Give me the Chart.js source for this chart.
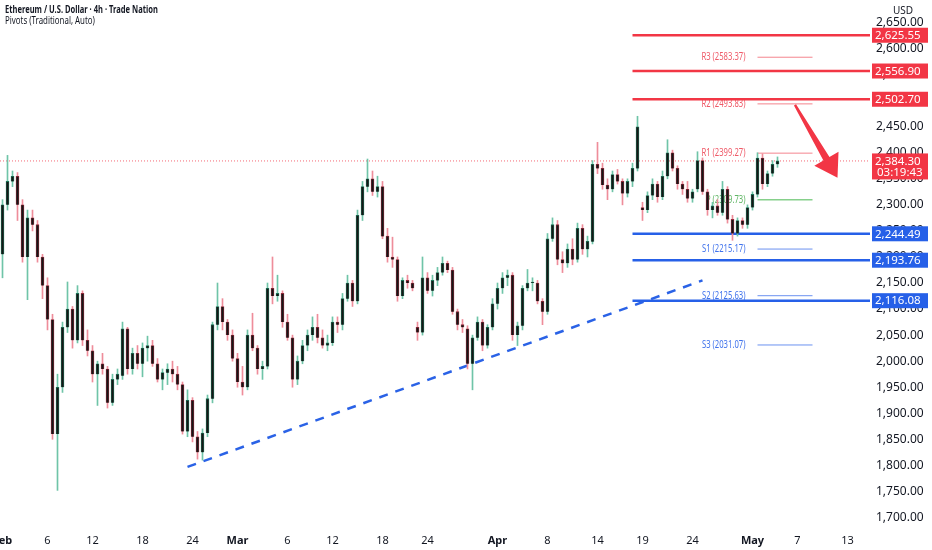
<!DOCTYPE html>
<html>
<head>
<meta charset="utf-8">
<title>ETHUSD 4h</title>
<script src="https://cdn.jsdelivr.net/npm/chart.js@4.4.1/dist/chart.umd.min.js"></script>
<style>
  html, body { margin: 0; padding: 0; background: #fff; }
  #wrap { position: relative; width: 932px; height: 550px; }
</style>
</head>
<body>
<div id="wrap"><canvas id="chart"></canvas></div>
<script>
// one candle per slot
const opens = [
  2205, 2300, 2345, 2355, 2300, 2200, 2275, 2262, 2200, 2145,
  2080, 1860, 1950, 2065, 2100, 2040, 2130, 2040, 2020, 1975,
  1995, 1985, 1920, 1965, 1972, 2062, 1985, 2015, 1995, 2025,
  2030, 1995, 1965, 1978, 1985, 1975, 1955, 1865, 1925, 1855,
  1825, 1862, 1928, 2070, 2105, 2075, 2050, 2005, 1960, 1950,
  2050, 2025, 1985, 1990, 2140, 2125, 2130, 2075, 2045, 1965,
  2000, 2030, 2050, 2065, 2045, 2030, 2035, 2075, 2070, 2120,
  2150, 2115, 2280, 2335, 2350, 2325, 2335, 2240, 2200, 2195,
  2125, 2155, 2150, 2065, 2055, 2160, 2135, 2155, 2170, 2188,
  2175, 2095, 2070, 2062, 1995, 2045, 2075, 2030, 2065, 2110,
  2140, 2160, 2165, 2050, 2068, 2140, 2150, 2150, 2115, 2095,
  2235, 2262, 2195, 2188, 2215, 2195, 2255, 2215, 2230, 2378,
  2370, 2338, 2330, 2358, 2345, 2322, 2345, 2370, 2295, 2290,
  2318, 2340, 2315, 2355, 2400, 2370, 2340, 2330, 2312, 2330,
  2385, 2325, 2290, 2298, 2285, 2330, 2272, 2245, 2270, 2262,
  2295, 2320, 2390, 2340, 2360, 2378
];
const highs = [
  2310, 2395, 2365, 2362, 2310, 2290, 2290, 2270, 2205, 2160,
  2090, 1975, 2075, 2152, 2105, 2145, 2135, 2060, 2030, 2000,
  2015, 1990, 1975, 1985, 2075, 2065, 2025, 2030, 2035, 2048,
  2040, 2005, 1985, 1995, 2000, 1990, 1960, 1945, 1930, 1865,
  1870, 1935, 2075, 2150, 2120, 2080, 2060, 2015, 1990, 2060,
  2092, 2030, 2000, 2150, 2200, 2165, 2135, 2090, 2050, 2010,
  2040, 2060, 2085, 2090, 2060, 2050, 2085, 2085, 2130, 2165,
  2155, 2290, 2345, 2388, 2365, 2355, 2345, 2255, 2238, 2200,
  2160, 2165, 2155, 2075, 2200, 2170, 2165, 2180, 2200, 2192,
  2180, 2100, 2080, 2068, 2050, 2085, 2080, 2070, 2120, 2150,
  2170, 2175, 2170, 2075, 2145, 2176, 2160, 2155, 2120, 2245,
  2275, 2270, 2210, 2225, 2235, 2265, 2262, 2240, 2385, 2420,
  2380, 2350, 2365, 2368, 2350, 2350, 2380, 2470, 2305, 2325,
  2350, 2345, 2365, 2425, 2405, 2375, 2345, 2345, 2330, 2402,
  2390, 2330, 2305, 2310, 2345, 2335, 2280, 2275, 2275, 2300,
  2325, 2400, 2398, 2365, 2385, 2392
];
const lows = [
  2160, 2290, 2335, 2270, 2190, 2118, 2250, 2190, 2120, 2060,
  1850, 1752, 1940, 2055, 2025, 2035, 2030, 2010, 1960, 1915,
  1975, 1910, 1915, 1955, 1965, 1975, 1975, 1985, 1970, 2000,
  1990, 1960, 1945, 1955, 1960, 1945, 1860, 1855, 1845, 1812,
  1810, 1855, 1920, 2060, 2060, 2040, 2000, 1950, 1935, 1945,
  2020, 1975, 1965, 1985, 2110, 2115, 2065, 2040, 1950, 1955,
  1995, 2020, 2040, 2035, 2025, 2020, 2030, 2055, 2060, 2115,
  2105, 2110, 2270, 2325, 2318, 2315, 2235, 2190, 2180, 2115,
  2120, 2140, 2135, 2040, 2050, 2130, 2125, 2145, 2165, 2170,
  2090, 2060, 2055, 1985, 1945, 2040, 2020, 2025, 2060, 2100,
  2130, 2145, 2040, 2030, 2060, 2135, 2135, 2110, 2070, 2090,
  2230, 2185, 2170, 2180, 2185, 2190, 2205, 2200, 2225, 2360,
  2330, 2310, 2325, 2340, 2300, 2315, 2335, 2365, 2270, 2285,
  2310, 2305, 2310, 2350, 2365, 2330, 2320, 2305, 2305, 2325,
  2320, 2280, 2275, 2280, 2280, 2265, 2232, 2240, 2255, 2255,
  2290, 2315, 2330, 2335, 2355, 2372
];
const closes = [
  2300, 2345, 2355, 2300, 2200, 2275, 2262, 2200, 2145, 2080,
  1860, 1950, 2065, 2100, 2040, 2130, 2040, 2020, 1975, 1995,
  1985, 1920, 1965, 1975, 2062, 1985, 2015, 1995, 2025, 2030,
  1995, 1965, 1978, 1985, 1975, 1955, 1865, 1925, 1855, 1825,
  1862, 1928, 2070, 2105, 2075, 2050, 2005, 1960, 1950, 2050,
  2025, 1985, 1990, 2140, 2125, 2130, 2075, 2045, 1965, 2000,
  2030, 2050, 2065, 2045, 2030, 2035, 2075, 2070, 2120, 2150,
  2115, 2280, 2335, 2350, 2325, 2335, 2240, 2200, 2195, 2125,
  2155, 2150, 2140, 2055, 2160, 2135, 2155, 2170, 2188, 2175,
  2095, 2070, 2065, 1995, 2045, 2075, 2030, 2065, 2110, 2140,
  2160, 2165, 2050, 2068, 2140, 2150, 2150, 2115, 2095, 2235,
  2262, 2195, 2188, 2215, 2195, 2255, 2215, 2230, 2378, 2370,
  2338, 2330, 2358, 2345, 2322, 2345, 2370, 2450, 2290, 2318,
  2340, 2315, 2355, 2400, 2370, 2340, 2330, 2312, 2325, 2385,
  2325, 2290, 2298, 2285, 2330, 2272, 2245, 2270, 2262, 2295,
  2320, 2390, 2340, 2360, 2378, 2384.3
];

// time axis labels and the slot they sit on
const tickSlots = [0, 9, 18, 28, 38, 47, 57, 66, 76, 85, 99, 109, 119, 128, 138, 150, 159, 169];
const tickLabels = ["Feb", "6", "12", "18", "24", "Mar", "6", "12", "18", "24", "Apr", "8", "14", "19", "24", "May", "7", "13"];
const monthNames = ["Feb", "Mar", "Apr", "May"];

// drawn levels
const resistanceLevels = [2625.55, 2556.90, 2502.70];
const supportLevels = [2244.49, 2193.76, 2116.08];
const levelStartSlot = 126;

// pivots (traditional)
const pivotNames = ["R3", "R2", "R1", "P", "S1", "S2", "S3"];
const pivotValues = [2583.37, 2493.83, 2399.27, 2309.73, 2215.17, 2125.63, 2031.07];
const pivotSlots = [151, 162];

// rising trendline and the down arrow
const trendSlots = [37, 140];
const trendPrices = [1797, 2155];
const arrowSlots = [158.5, 167];
const arrowPrices = [2492, 2352];

const lastPrice = 2384.30;
const countdown = "03:19:43";

const slotCount = 174;
const RED = "#f23645";
const BLUE = "#2660e8";
const TEXT = "#131722";
const FONT = "'Noto Sans', 'DejaVu Sans', sans-serif";

const fmt = v => v.toLocaleString("en-US", { minimumFractionDigits: 2, maximumFractionDigits: 2 });
const isUp = i => closes[i] >= opens[i];

const bodies = opens.map((o, i) => ({ x: i, y: [o, closes[i]] }));
const wicks = lows.map((l, i) => ({ x: i, y: [l, highs[i]] }));
const bodyEdges = opens.map((o, i) => isUp(i) ? "#1b7458" : "#93283a");
const wickColors = opens.map((o, i) => isUp(i) ? "#6fc4a8" : "#ee8d9a");

const hLine = (x0, x1, v, color, width, dash, order) => ({
  type: "line",
  data: [{ x: x0, y: v }, { x: x1, y: v }],
  borderColor: color,
  borderWidth: width,
  borderDash: dash || [],
  pointRadius: 0,
  order: order
});

const pivotColor = name => name[0] === "R" ? "#f4848e" : name[0] === "P" ? "#86d08b" : "#6b91f0";
const pivotTextColor = name => name[0] === "R" ? "#ef5a68" : name[0] === "P" ? "#5fb564" : "#3f72ec";

const datasets = [
  { type: "bar", data: bodies, backgroundColor: "#171717", borderColor: bodyEdges, borderWidth: 0.8, barThickness: 3, grouped: false, minBarLength: 1, order: 0 },
  { type: "bar", data: wicks, backgroundColor: wickColors, barThickness: 1, grouped: false, order: 1 }
];
resistanceLevels.forEach(v => datasets.push(hLine(levelStartSlot, slotCount - 0.5, v, RED, 2.5, null, 3)));
supportLevels.forEach(v => datasets.push(hLine(levelStartSlot, slotCount - 0.5, v, BLUE, 2.5, null, 3)));
pivotValues.forEach((v, i) => datasets.push(hLine(pivotSlots[0], pivotSlots[1], v, pivotColor(pivotNames[i]), pivotNames[i] === "P" ? 1.5 : 1, null, 4)));
datasets.push(hLine(-0.5, slotCount - 0.5, lastPrice, "rgba(242,54,69,0.75)", 1, [1, 2], 5));
datasets.push({
  type: "line",
  data: trendSlots.map((s, i) => ({ x: s, y: trendPrices[i] })),
  borderColor: "#2a62e6",
  borderWidth: 2.5,
  borderDash: [9, 8],
  pointRadius: 0,
  order: 2
});

// narrow caption text, like the condensed face in the screenshot
const narrowText = (ctx, text, x, y, align, squeeze) => {
  ctx.save();
  ctx.translate(x, y);
  ctx.scale(squeeze || 0.8, 1);
  ctx.textAlign = align || "left";
  ctx.fillText(text, 0, 0);
  ctx.restore();
};

// texts on top-left, pivot captions, price scale boxes, arrow
const overlay = {
  id: "overlay",
  beforeDatasetsDraw(chart) {
    const { ctx, scales: { x, y } } = chart;
    ctx.save();
    ctx.font = "10.5px " + FONT;
    ctx.textBaseline = "middle";
    const xr = x.getPixelForValue(pivotSlots[0]) - 12;
    pivotValues.forEach((v, i) => {
      ctx.fillStyle = pivotTextColor(pivotNames[i]);
      narrowText(ctx, pivotNames[i] + " (" + v.toFixed(2) + ")", xr, y.getPixelForValue(v), "right", 0.73);
    });
    ctx.restore();
  },
  afterDatasetsDraw(chart) {
    const { ctx, scales: { x, y } } = chart;
    const x0 = x.getPixelForValue(arrowSlots[0]), y0 = y.getPixelForValue(arrowPrices[0]);
    const x1 = x.getPixelForValue(arrowSlots[1]), y1 = y.getPixelForValue(arrowPrices[1]);
    const len = Math.hypot(x1 - x0, y1 - y0);
    const ux = (x1 - x0) / len, uy = (y1 - y0) / len;
    const nx = -uy, ny = ux;
    const head = 22, hw = 14;
    const bx = x1 - ux * head, by = y1 - uy * head;
    ctx.save();
    ctx.fillStyle = RED;
    ctx.beginPath();
    ctx.moveTo(x0 + nx * 1.2, y0 + ny * 1.2);
    ctx.lineTo(bx + nx * 3.5, by + ny * 3.5);
    ctx.lineTo(bx + nx * hw, by + ny * hw);
    ctx.lineTo(x1, y1);
    ctx.lineTo(bx - nx * hw, by - ny * hw);
    ctx.lineTo(bx - nx * 3.5, by - ny * 3.5);
    ctx.lineTo(x0 - nx * 1.2, y0 - ny * 1.2);
    ctx.closePath();
    ctx.fill();
    ctx.restore();
  },
  afterDraw(chart) {
    const { ctx, scales: { y } } = chart;
    ctx.save();
    ctx.textBaseline = "middle";
    ctx.fillStyle = TEXT;
    ctx.font = "bold 10.5px " + FONT;
    narrowText(ctx, "Ethereum / U.S. Dollar · 4h · Trade Nation", 5, 10, "left", 0.72);
    ctx.font = "10.5px " + FONT;
    narrowText(ctx, "Pivots (Traditional, Auto)", 5, 21, "left", 0.75);
    ctx.font = "10px " + FONT;
    ctx.fillText("USD", 893, 11);

    const bx = y.left + 2, bw = 56;
    ctx.font = "11.5px " + FONT;
    const box = (v, color) => {
      const py = y.getPixelForValue(v);
      ctx.fillStyle = color;
      ctx.fillRect(bx, py - 7.5, bw, 15);
      ctx.fillStyle = "#fff";
      ctx.fillText(fmt(v), bx + 3, py + 0.5);
    };
    resistanceLevels.forEach(v => box(v, RED));
    supportLevels.forEach(v => box(v, BLUE));
    const py = y.getPixelForValue(lastPrice);
    ctx.fillStyle = RED;
    ctx.fillRect(bx, py - 7.5, bw, 26);
    ctx.fillStyle = "#fff";
    ctx.fillText(fmt(lastPrice), bx + 3, py + 0.5);
    ctx.fillText(countdown, bx + 5, py + 11.5);
    ctx.restore();
  }
};

new Chart(document.getElementById("chart"), {
  type: "bar",
  data: { datasets: datasets },
  options: {
    responsive: true,
    maintainAspectRatio: false,
    animation: false,
    layout: { padding: 0 },
    plugins: { legend: { display: false }, tooltip: { enabled: false } },
    scales: {
      x: {
        type: "linear",
        offset: false,
        min: -0.5,
        max: slotCount - 0.5,
        grid: { display: false, drawTicks: false },
        border: { display: false },
        afterBuildTicks: axis => { axis.ticks = tickSlots.map(v => ({ value: v })); },
        afterFit: axis => { axis.height = 22; axis.paddingLeft = 0; axis.paddingRight = 0; },
        ticks: {
          autoSkip: false,
          maxRotation: 0,
          padding: 6,
          color: TEXT,
          font: ctx => ({
            family: FONT,
            size: 11,
            weight: ctx.tick && monthNames.includes(tickLabels[tickSlots.indexOf(ctx.tick.value)]) ? "bold" : "normal"
          }),
          callback: v => tickLabels[tickSlots.indexOf(v)] || ""
        }
      },
      y: {
        position: "right",
        min: 1679.8,
        max: 2693.2,
        grid: { display: false, drawTicks: false },
        border: { display: false },
        afterBuildTicks: axis => { axis.ticks = axis.ticks.filter(t => Math.abs(t.value % 50) < 1e-6); },
        afterFit: axis => { axis.width = 62; axis.paddingTop = 0; axis.paddingBottom = 0; },
        ticks: {
          stepSize: 50,
          includeBounds: false,
          autoSkip: false,
          padding: 6,
          color: TEXT,
          font: { family: FONT, size: 12 },
          callback: v => fmt(v)
        }
      }
    }
  },
  plugins: [overlay]
});
</script>
</body>
</html>
